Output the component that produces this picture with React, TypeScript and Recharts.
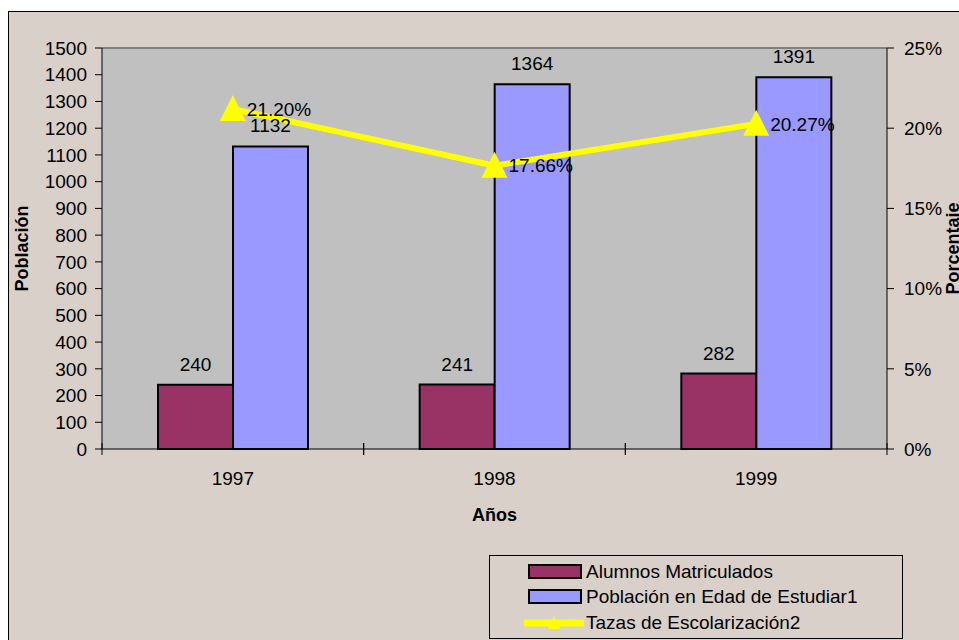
import * as React from 'react';
import {
  ComposedChart, Bar, Line, XAxis, YAxis, CartesianGrid, LabelList, Legend, ReferenceLine
} from 'recharts';

// years on the x axis
const YEARS = ['1997', '1998', '1999'];
// bar series (left axis, people)
const ALUMNOS = [240, 241, 282];
const POBLACION = [1132, 1364, 1391];
// line series (right axis, percent)
const TAZAS = [21.2, 17.66, 20.27];
// axis ticks
const LEFT_TICKS = [0, 100, 200, 300, 400, 500, 600, 700, 800, 900, 1000, 1100, 1200, 1300, 1400, 1500];
const RIGHT_TICKS = [0, 5, 10, 15, 20, 25];

const data = YEARS.map((year, i) => ({
  year,
  alumnos: ALUMNOS[i],
  poblacion: POBLACION[i],
  tazas: TAZAS[i],
}));

const FONT = 'Liberation Sans, Arial, sans-serif';
const BG = '#D9D0C9';

const Triangle = (props: any) => {
  const { cx, cy, index } = props;
  if (cx == null || cy == null) return null;
  return (
    <polygon
      key={index}
      points={`${cx},${cy - 14} ${cx - 13},${cy + 12} ${cx + 13},${cy + 12}`}
      fill="#FFFF00"
    />
  );
};

const YearTick = (props: any) => {
  const { x, y, payload } = props;
  const half = payload.offset || 0;
  return (
    <g>
      <line x1={x - half} x2={x - half} y1={y - 6} y2={y + 6} stroke="#000" />
      <line x1={x + half} x2={x + half} y1={y - 6} y2={y + 6} stroke="#000" />
      <text x={x} y={y + 36} textAnchor="middle" fontSize={19} fill="#000" fontFamily={FONT}>
        {payload.value}
      </text>
    </g>
  );
};

const LegendBox = (props: any) => {
  const { payload } = props;
  return (
    <div style={{ padding: '3px 0 0 34px', fontFamily: FONT, fontSize: 19, color: '#000' }}>
      {(payload || []).map((entry: any) => (
        <div key={entry.value} style={{ display: 'flex', alignItems: 'center', height: 25.5 }}>
          <svg width={60} height={20} style={{ marginRight: 2 }}>
            {entry.type === 'line' ? (
              <g>
                <line x1={2} x2={58} y1={10} y2={10} stroke={entry.color} strokeWidth={7} strokeLinecap="round" />
                <polygon points="30,3 24,16 36,16" fill={entry.color} />
              </g>
            ) : (
              <rect x={5} y={3} width={52} height={13} fill={entry.color} stroke="#000" strokeWidth={2} />
            )}
          </svg>
          <span>{entry.value}</span>
        </div>
      ))}
    </div>
  );
};

export default function App() {
  return (
    <div
      style={{
        position: 'fixed',
        left: 8,
        top: 11,
        right: 0,
        bottom: 0,
        borderTop: '1px solid #000',
        borderLeft: '1px solid #000',
        background: BG,
        overflow: 'hidden',
      }}
    >
      <ComposedChart
        width={950}
        height={628}
        data={data}
        margin={{ top: 36, left: 5, right: 12, bottom: 131 }}
        barGap={0}
        style={{ fontFamily: FONT }}
      >
        <CartesianGrid horizontal={false} vertical={false} fill="#C0C0C0" yAxisId="left" />
        <XAxis
          dataKey="year"
          height={60}
          tickSize={0}
          tickMargin={0}
          tick={<YearTick />}
          stroke="#000"
          label={{ value: 'Años', position: 'insideBottom', offset: -12, fontSize: 18, fontWeight: 'bold', fill: '#000' }}
        />
        <YAxis
          yAxisId="left"
          width={88}
          domain={[0, 1500]}
          ticks={LEFT_TICKS}
          interval={0}
          tickSize={7}
          tickMargin={8}
          stroke="#000"
          tick={{ fontSize: 19, fill: '#000' }}
          label={{
            content: (p: any) => {
              const vb = p.viewBox;
              const cx = vb.x + 14;
              const cy = vb.y + vb.height / 2;
              return (
                <text
                  x={cx}
                  y={cy}
                  transform={`rotate(-90 ${cx} ${cy})`}
                  textAnchor="middle"
                  fontSize={18}
                  fontWeight="bold"
                  fill="#000"
                  fontFamily={FONT}
                >
                  Población
                </text>
              );
            },
          }}
        />
        <YAxis
          yAxisId="right"
          orientation="right"
          width={60}
          domain={[0, 25]}
          ticks={RIGHT_TICKS}
          interval={0}
          tickSize={7}
          tickMargin={10}
          stroke="#000"
          tickFormatter={(v: number) => `${v}%`}
          tick={{ fontSize: 19, fill: '#000' }}
          label={{
            content: (p: any) => {
              const vb = p.viewBox;
              const cx = vb.x + 72;
              const cy = vb.y + vb.height / 2;
              return (
                <text
                  x={cx}
                  y={cy}
                  transform={`rotate(-90 ${cx} ${cy})`}
                  textAnchor="middle"
                  fontSize={18}
                  fontWeight="bold"
                  fill="#000"
                  fontFamily={FONT}
                >
                  Porcentaje
                </text>
              );
            },
          }}
        />
        <ReferenceLine yAxisId="left" y={1500} stroke="#808080" strokeWidth={2} />
        <Bar
          yAxisId="left"
          dataKey="alumnos"
          name="Alumnos Matriculados"
          fill="#993366"
          stroke="#000"
          strokeWidth={2}
          barSize={75}
          isAnimationActive={false}
        >
          <LabelList dataKey="alumnos" position="top" offset={14} fontSize={19} fill="#000" />
        </Bar>
        <Bar
          yAxisId="left"
          dataKey="poblacion"
          name="Población en Edad de Estudiar1"
          fill="#9999FF"
          stroke="#000"
          strokeWidth={2}
          barSize={75}
          isAnimationActive={false}
        >
          <LabelList dataKey="poblacion" position="top" offset={14} fontSize={19} fill="#000" />
        </Bar>
        <Line
          yAxisId="right"
          dataKey="tazas"
          name="Tazas de Escolarización2"
          stroke="#FFFF00"
          strokeWidth={6}
          dot={<Triangle />}
          activeDot={false}
          legendType="line"
          isAnimationActive={false}
        >
          <LabelList
            dataKey="tazas"
            position="right"
            offset={14}
            fontSize={19}
            fill="#000"
            formatter={(v: any) => `${Number(v).toFixed(2)}%`}
          />
        </Line>
        <Legend
          layout="vertical"
          align="center"
          verticalAlign="middle"
          content={<LegendBox />}
          wrapperStyle={{
            left: 480,
            top: 543,
            width: 414,
            height: 84,
            border: '1px solid #000',
            boxSizing: 'border-box',
          }}
        />
      </ComposedChart>
    </div>
  );
}
